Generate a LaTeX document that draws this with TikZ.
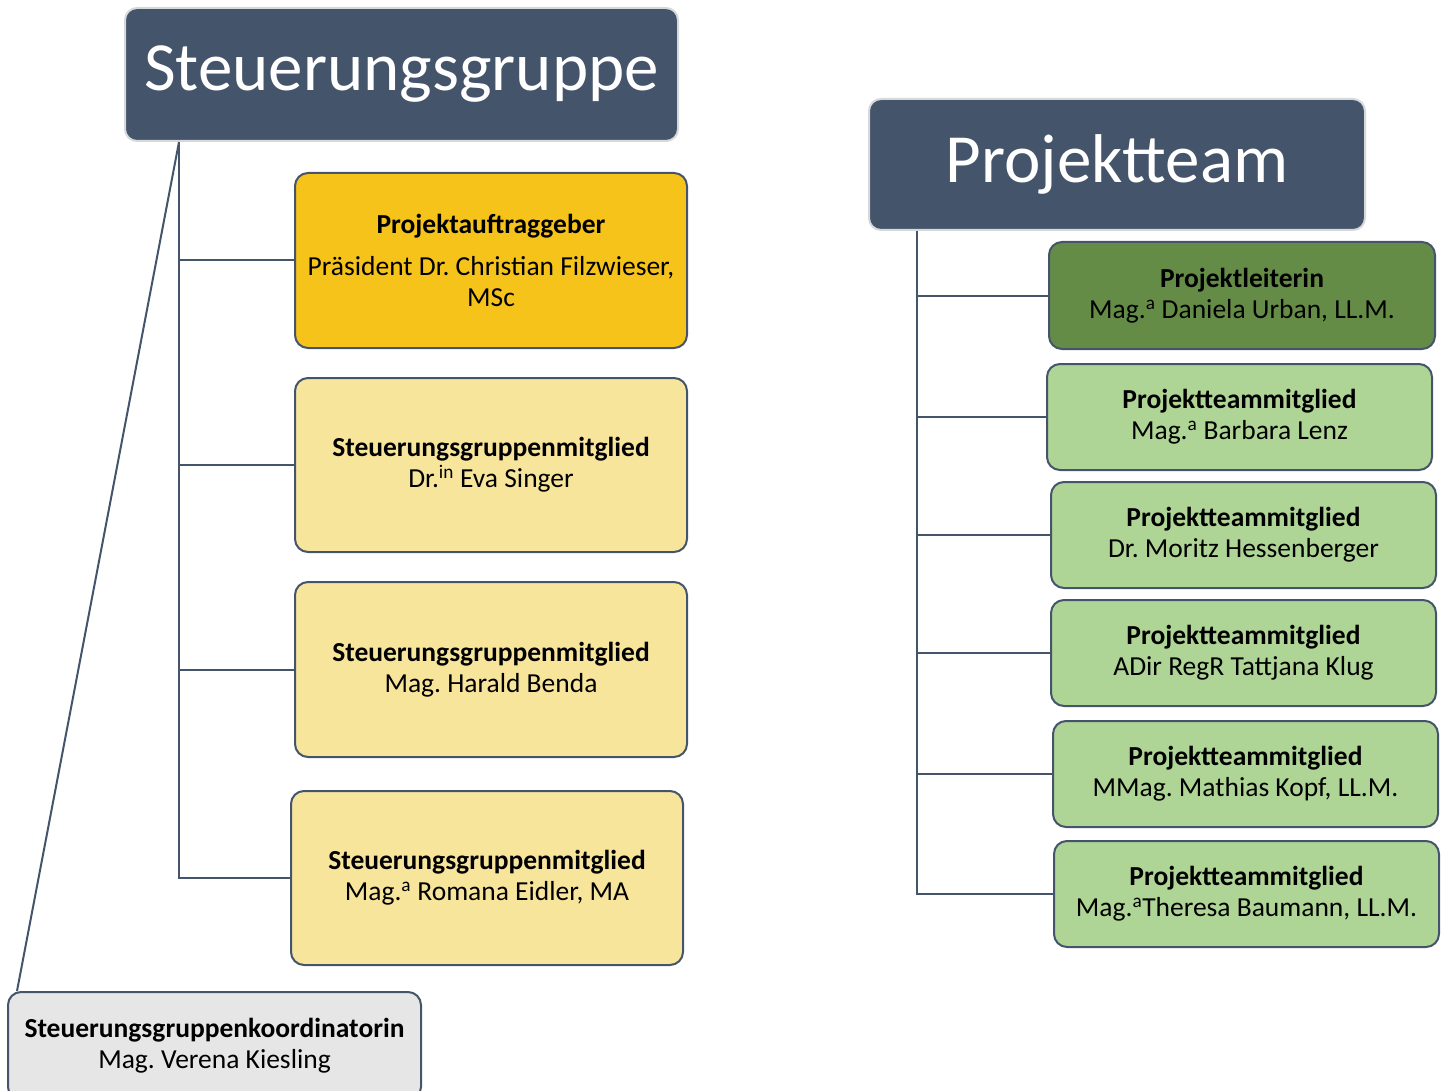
\documentclass[tikz,border=0pt]{standalone}
\usepackage{fontspec}
\setmainfont{Carlito}
\usetikzlibrary{calc}
\frenchspacing
\definecolor{slate}{HTML}{44546A}
\definecolor{gold}{HTML}{F6C31A}
\definecolor{lightyellow}{HTML}{F8E59C}
\definecolor{darkgreen}{HTML}{658C47}
\definecolor{lightgreen}{HTML}{AFD596}
\definecolor{lightgray}{HTML}{E7E6E6}
\definecolor{rimgray}{HTML}{D6D8DC}
\tikzset{
  header/.style={fill=slate, draw=rimgray, line width=2pt, rounded corners=12pt,
    inner sep=0pt, text=white, font=\fontsize{69}{72}\selectfont},
  member/.style={draw=slate, line width=2pt, rounded corners=13pt, inner sep=0pt,
    align=center, font=\fontsize{27.5}{31}\selectfont, text=black},
  conn/.style={draw=slate, line width=2pt}
}
\begin{document}
\begin{tikzpicture}[x=1pt,y=-1pt]
\useasboundingbox (0,0) rectangle (1445,1091);
\clip (0,0) rectangle (1445,1091);
% left side
\node[header, minimum width=553pt, minimum height=133pt] (sg) at (401.5,74.5) {Steuerungsgruppe};
\node[member, fill=gold, minimum width=392pt, minimum height=175pt] (a1) at (491,260.5)
  {\textbf{Projektauftraggeber}\\[11pt]Präsident Dr. Christian Filzwieser,\\MSc};
\node[member, fill=lightyellow, minimum width=392pt, minimum height=174pt] (a2) at (491,465)
  {\textbf{Steuerungsgruppenmitglied}\\Dr.\textsuperscript{in} Eva Singer};
\node[member, fill=lightyellow, minimum width=392pt, minimum height=175pt] (a3) at (491,669.5)
  {\textbf{Steuerungsgruppenmitglied}\\Mag. Harald Benda};
\node[member, fill=lightyellow, minimum width=392pt, minimum height=174pt] (a4) at (487,878)
  {\textbf{Steuerungsgruppenmitglied}\\Mag.\textsuperscript{a} Romana Eidler, MA};
\node[member, fill=lightgray, minimum width=413pt, minimum height=108pt] (ko) at (214.5,1046)
  {\textbf{Steuerungsgruppenkoordinatorin}\\Mag. Verena Kiesling};
\coordinate (t1) at ($(sg.south west)+(55,0)$);
\coordinate (k1) at ($(ko.north west)+(10,0)$);
\draw[conn] (t1) |- (a4.west);
\draw[conn] (t1 |- a1.west) -- (a1.west);
\draw[conn] (t1 |- a2.west) -- (a2.west);
\draw[conn] (t1 |- a3.west) -- (a3.west);
\draw[conn] (t1) -- (k1);
% right side
\node[header, minimum width=496pt, minimum height=131pt] (pt) at (1117,164.5) {Projektteam};
\node[member, fill=darkgreen, minimum width=386pt, minimum height=107pt] (b1) at (1242,295.5)
  {\textbf{Projektleiterin}\\Mag.\textsuperscript{a} Daniela Urban, LL.M.};
\node[member, fill=lightgreen, minimum width=385pt, minimum height=106pt] (b2) at (1239.5,417)
  {\textbf{Projektteammitglied}\\Mag.\textsuperscript{a} Barbara Lenz};
\node[member, fill=lightgreen, minimum width=385pt, minimum height=106pt] (b3) at (1243.5,535)
  {\textbf{Projektteammitglied}\\Dr. Moritz Hessenberger};
\node[member, fill=lightgreen, minimum width=385pt, minimum height=106pt] (b4) at (1243.5,653)
  {\textbf{Projektteammitglied}\\ADir RegR Tattjana Klug};
\node[member, fill=lightgreen, minimum width=385pt, minimum height=106pt] (b5) at (1245.5,774)
  {\textbf{Projektteammitglied}\\MMag. Mathias Kopf, LL.M.};
\node[member, fill=lightgreen, minimum width=385pt, minimum height=106pt] (b6) at (1246.5,894)
  {\textbf{Projektteammitglied}\\Mag.\textsuperscript{a}Theresa Baumann, LL.M.};
\coordinate (t2) at ($(pt.south west)+(49,0)$);
\draw[conn] (t2) |- (b6.west);
\draw[conn] (t2 |- b1.west) -- (b1.west);
\draw[conn] (t2 |- b2.west) -- (b2.west);
\draw[conn] (t2 |- b3.west) -- (b3.west);
\draw[conn] (t2 |- b4.west) -- (b4.west);
\draw[conn] (t2 |- b5.west) -- (b5.west);
\end{tikzpicture}
\end{document}
